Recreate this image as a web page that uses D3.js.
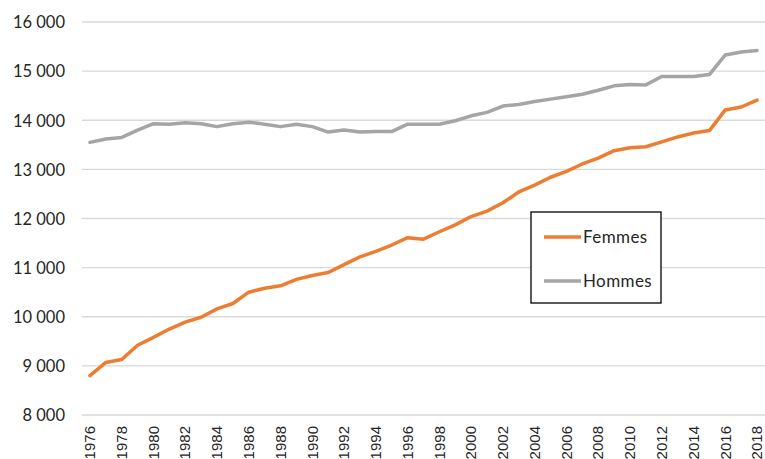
<!DOCTYPE html>
<html>
<head>
<meta charset="utf-8">
<script src="https://cdn.jsdelivr.net/npm/d3@7"></script>
<style>
  html, body { margin: 0; padding: 0; background: #fff; }
  svg { display: block; }
</style>
</head>
<body>
<svg id="chart" width="765" height="459"></svg>
<script>
const years = d3.range(1976, 2019);
const femmes = [8800, 9070, 9130, 9420, 9580, 9750, 9890, 9990, 10160, 10270,
  10500, 10580, 10630, 10760, 10840, 10900, 11060, 11220, 11330, 11460,
  11610, 11580, 11730, 11870, 12040, 12150, 12320, 12540, 12680, 12840,
  12960, 13110, 13230, 13380, 13440, 13460, 13560, 13660, 13740, 13790,
  14210, 14270, 14410];
const hommes = [13550, 13620, 13650, 13800, 13930, 13920, 13950, 13930, 13870, 13930,
  13960, 13920, 13870, 13920, 13870, 13760, 13800, 13760, 13770, 13770,
  13920, 13920, 13920, 13990, 14090, 14160, 14290, 14320, 14380, 14430,
  14480, 14530, 14610, 14700, 14730, 14720, 14890, 14890, 14890, 14930,
  15330, 15390, 15420];
const yTicks = [8000, 9000, 10000, 11000, 12000, 13000, 14000, 15000, 16000];
const seriesNames = ["Femmes", "Hommes"];
const seriesColors = ["#ED7D31", "#A5A5A5"];

const svg = d3.select("#chart");
const x = d3.scaleBand().domain(years).range([82, 765]);
const y = d3.scaleLinear().domain([8000, 16000]).range([415, 22]);

// gridlines
svg.append("g").selectAll("line").data(yTicks).join("line")
  .attr("x1", 82).attr("x2", 765)
  .attr("y1", d => y(d)).attr("y2", d => y(d))
  .attr("stroke", "#d9d9d9").attr("stroke-width", 1.3);

// y axis labels
const yAxis = d3.axisLeft(y).tickValues(yTicks).tickSize(0).tickPadding(0)
  .tickFormat(d => d3.format(",")(d).replace(",", " "));
svg.append("g").attr("transform", "translate(65,0)").call(yAxis)
  .call(g => g.select(".domain").remove())
  .call(g => g.selectAll("text")
    .attr("font-family", "Lato, 'Open Sans', sans-serif")
    .attr("font-size", 16.5).attr("fill", "#262626").attr("dy", "0.35em"));

// x axis labels
const xAxis = d3.axisBottom(x).tickValues(years.filter(d => d % 2 === 0)).tickSize(0).tickPadding(0);
svg.append("g").attr("transform", "translate(0,415)").call(xAxis)
  .call(g => g.select(".domain").remove())
  .call(g => g.selectAll("text")
    .attr("font-family", "'Liberation Sans', Arial, sans-serif")
    .attr("font-size", 15).attr("fill", "#262626")
    .attr("transform", "rotate(-90)")
    .attr("text-anchor", "end")
    .attr("x", -11).attr("y", 0).attr("dy", "0.35em"));

// lines
const line = d3.line().x((d, i) => x(years[i]) + x.bandwidth() / 2).y(d => y(d));
[femmes, hommes].forEach((s, k) => {
  svg.append("path").datum(s)
    .attr("fill", "none").attr("stroke", seriesColors[k])
    .attr("stroke-width", 3.5).attr("stroke-linejoin", "round").attr("stroke-linecap", "round")
    .attr("d", line);
});

// legend
const lg = svg.append("g");
lg.append("rect").attr("x", 531).attr("y", 212).attr("width", 130).attr("height", 91)
  .attr("fill", "#fff").attr("stroke", "#000").attr("stroke-width", 1.3);
seriesNames.forEach((n, k) => {
  const ly = 237 + k * 44;
  lg.append("line").attr("x1", 544).attr("x2", 581).attr("y1", ly).attr("y2", ly)
    .attr("stroke", seriesColors[k]).attr("stroke-width", 3.5);
  lg.append("text").attr("x", 583).attr("y", ly).attr("dy", "0.35em")
    .attr("font-family", "Lato, 'Open Sans', sans-serif").attr("font-size", 17)
    .attr("letter-spacing", 0.4)
    .attr("fill", "#262626").text(n);
});
</script>
</body>
</html>
